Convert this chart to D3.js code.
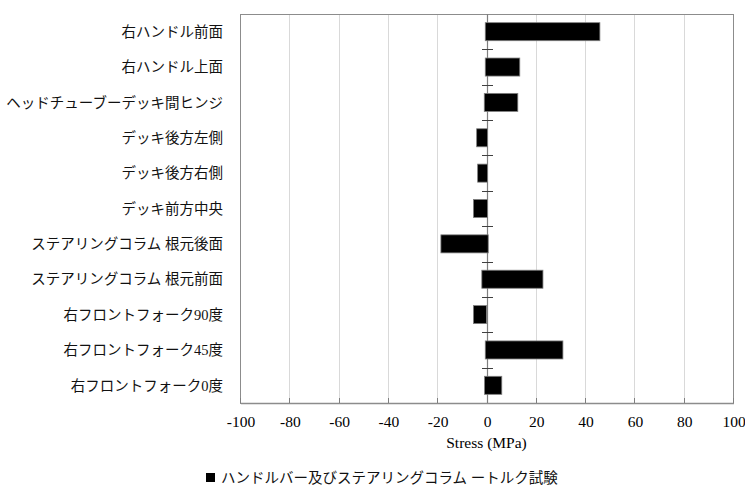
<!DOCTYPE html>
<html>
<head>
<meta charset="utf-8">
<script src="https://cdn.jsdelivr.net/npm/d3@7/dist/d3.min.js"></script>
<style>
  html, body { margin: 0; padding: 0; background: #fff; }
  svg { display: block; }
</style>
</head>
<body>
<svg id="chart" width="745" height="486"></svg>
<script>
// Measurement locations (top to bottom)
const locations = [
  "右ハンドル前面",
  "右ハンドル上面",
  "ヘッドチューブーデッキ間ヒンジ",
  "デッキ後方左側",
  "デッキ後方右側",
  "デッキ前方中央",
  "ステアリングコラム 根元後面",
  "ステアリングコラム 根元前面",
  "右フロントフォーク90度",
  "右フロントフォーク45度",
  "右フロントフォーク0度"
];
// Stress range for each location (MPa)
const stressMin = [-0.5, -0.5, -0.9, -4.0, -3.6, -5.3, -18.5, -1.9, -5.3, -0.5, -0.8];
const stressMax = [46.0, 13.5, 12.7, 0.4, 0.4, 0.4, 0.7, 22.9, 0.0, 31.0, 6.2];
const xTicks = [-100, -80, -60, -40, -20, 0, 20, 40, 60, 80, 100];
const seriesName = "ハンドルバー及びステアリングコラム ートルク試験";
const axisTitle = "Stress (MPa)";

const svg = d3.select("#chart");
const plot = { left: 240, right: 733, top: 14, bottom: 403 };
const jpFont = "'Liberation Serif', 'Noto Sans CJK JP', sans-serif";
const numFont = "'Liberation Serif', 'Times New Roman', serif";

const x = d3.scaleLinear().domain([-100, 100]).range([plot.left, plot.right]);
const y = d3.scaleBand().domain(locations).range([plot.top, plot.bottom]).paddingInner(0.49).paddingOuter(0.245);
const band = d3.scaleBand().domain(locations).range([plot.top, plot.bottom]);

// vertical gridlines
svg.append("g").selectAll("line")
  .data(xTicks.filter(v => v !== -100 && v !== 100 && v !== 0))
  .join("line")
  .attr("x1", d => Math.round(x(d)) + 0.5).attr("x2", d => Math.round(x(d)) + 0.5)
  .attr("y1", plot.top).attr("y2", plot.bottom)
  .attr("stroke", "#d9d9d9").attr("stroke-width", 1);

// plot frame
svg.append("rect")
  .attr("x", plot.left + 0.5).attr("y", plot.top + 0.5)
  .attr("width", plot.right - plot.left).attr("height", plot.bottom - plot.top)
  .attr("fill", "none").attr("stroke", "#8c8c8c").attr("stroke-width", 1);

// category axis at zero, with tick marks between locations
const zx = Math.round(x(0)) + 0.5;
svg.append("line")
  .attr("x1", zx).attr("x2", zx).attr("y1", plot.top).attr("y2", plot.bottom)
  .attr("stroke", "#7f7f7f").attr("stroke-width", 1.2);
const bounds = locations.map(d => band(d)).concat([plot.bottom]);
svg.append("g").selectAll("line")
  .data(bounds.slice(1, -1))
  .join("line")
  .attr("x1", zx - 5.5).attr("x2", zx + 5.5)
  .attr("y1", d => Math.round(d) + 0.5).attr("y2", d => Math.round(d) + 0.5)
  .attr("stroke", "#404040").attr("stroke-width", 1);

// range bars
svg.append("g").selectAll("rect")
  .data(locations)
  .join("rect")
  .attr("x", (d, i) => x(stressMin[i]))
  .attr("width", (d, i) => x(stressMax[i]) - x(stressMin[i]))
  .attr("y", d => y(d))
  .attr("height", y.bandwidth())
  .attr("fill", "#000")
  .attr("stroke", "#7f7f7f").attr("stroke-width", 0.8);

// category labels
svg.append("g").selectAll("text")
  .data(locations)
  .join("text")
  .attr("x", 223)
  .attr("y", d => band(d) + band.bandwidth() / 2)
  .attr("dy", "0.36em")
  .attr("text-anchor", "end")
  .attr("font-family", jpFont)
  .attr("font-size", 14.5)
  .attr("fill", "#111")
  .text(d => d);

// value axis at bottom
const xAxis = d3.axisBottom(x).tickValues(xTicks).tickSize(0).tickPadding(13).tickFormat(d => String(d));
const gx = svg.append("g").attr("transform", `translate(0.5,${plot.bottom})`).call(xAxis);
gx.select(".domain").attr("stroke", "#8c8c8c").attr("stroke-width", 1.5);
gx.selectAll("text").attr("font-family", numFont).attr("font-size", 15.5).attr("fill", "#000");
svg.append("g").selectAll("line")
  .data(xTicks)
  .join("line")
  .attr("x1", d => Math.round(x(d)) + 0.5).attr("x2", d => Math.round(x(d)) + 0.5)
  .attr("y1", plot.bottom - 5).attr("y2", plot.bottom)
  .attr("stroke", "#7f7f7f").attr("stroke-width", 1);

// axis title
svg.append("text")
  .attr("x", x(0)).attr("y", 448)
  .attr("text-anchor", "middle")
  .attr("font-family", numFont).attr("font-size", 15.5).attr("fill", "#000")
  .text(axisTitle);

// legend
const lg = svg.append("g").attr("transform", "translate(206,478)");
lg.append("rect").attr("x", 0).attr("y", -5).attr("width", 9).attr("height", 9).attr("fill", "#000");
lg.append("text")
  .attr("x", 15).attr("y", 0).attr("dy", "0.36em")
  .attr("font-family", jpFont).attr("font-size", 14.5).attr("fill", "#111")
  .text(seriesName);
</script>
</body>
</html>
